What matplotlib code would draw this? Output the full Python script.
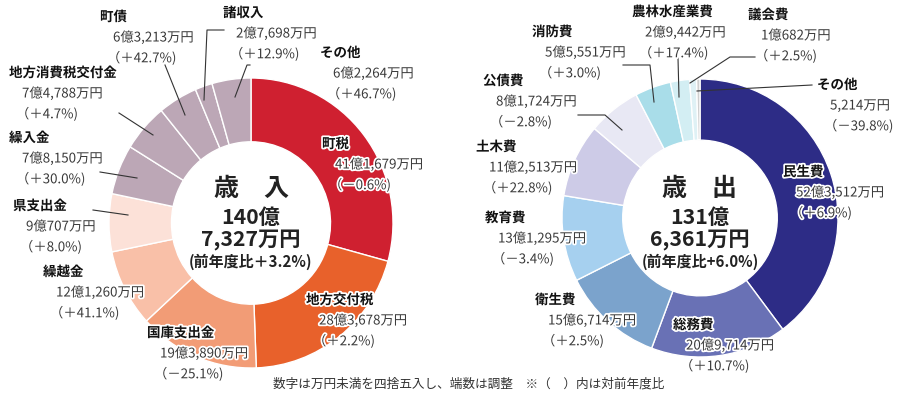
import matplotlib
matplotlib.use('Agg')
import matplotlib.pyplot as plt
import matplotlib.patheffects as pe

plt.rcParams['font.family'] = ['Noto Sans CJK JP', 'DejaVu Sans']

W, H = 900, 394

# 歳入 (万円), clockwise from top
rev_names = ['町税', '地方交付税', '国庫支出金', '繰越金', '県支出金', '繰入金',
             '地方消費税交付金', '町債', '諸収入', 'その他']
rev_values = [411679, 283678, 193890, 121260, 90707, 78150, 74788, 63213, 27698, 62264]
rev_labels = ['41億1,679万円', '28億3,678万円', '19億3,890万円', '12億1,260万円', '9億707万円',
              '7億8,150万円', '7億4,788万円', '6億3,213万円', '2億7,698万円', '6億2,264万円']
rev_pct = ['－0.6%', '＋2.2%', '－25.1%', '＋41.1%', '＋8.0%', '＋30.0%', '＋4.7%',
           '＋42.7%', '＋12.9%', '＋46.7%']
rev_colors = ['#cf2030', '#e8612b', '#f29c76', '#f9c0a8', '#fce1d8', '#bca7b6',
              '#bca7b6', '#bca7b6', '#bca7b6', '#bca7b6']

# 歳出 (万円), clockwise from top
exp_names = ['民生費', '総務費', '衛生費', '教育費', '土木費', '公債費', '消防費',
             '農林水産業費', '議会費', 'その他']
exp_values = [523512, 209714, 156714, 131295, 112513, 81724, 55551, 29442, 10682, 5214]
exp_labels = ['52億3,512万円', '20億9,714万円', '15億6,714万円', '13億1,295万円', '11億2,513万円',
              '8億1,724万円', '5億5,551万円', '2億9,442万円', '1億682万円', '5,214万円']
exp_pct = ['＋6.9%', '＋10.7%', '＋2.5%', '－3.4%', '＋22.8%', '－2.8%', '＋3.0%',
           '＋17.4%', '＋2.5%', '－39.8%']
exp_colors = ['#2d2c86', '#6971b5', '#7ba3cc', '#a6d0ef', '#cdcbe7', '#e8e8f4',
              '#a9dde9', '#d3eef3', '#dff1f5', '#cfcfcf']

# label anchors (pixels) and leader lines
rev_pos = [(322, 144), (306, 300), (147, 333), (43, 272), (13, 206), (9, 138),
           (9, 73), (100, 17), (223, 13), (320, 53)]
rev_lines = [[(165, 65), (185, 115)],
             [(224, 30), (207, 30), (204, 100)],
             [(250, 65), (247, 65), (235, 97)],
             [(119, 113), (153, 135)],
             [(100, 172), (137, 178)],
             [(93, 210), (128, 215)]]
exp_pos = [(783, 172), (673, 325), (535, 300), (485, 218), (476, 147), (483, 81),
           (532, 32), (632, 12), (748, 15), (817, 85)]
exp_lines = [[(578, 115), (605, 115), (622, 130)],
             [(623, 65), (650, 65), (654, 102)],
             [(678, 58), (679, 97)],
             [(755, 57), (730, 57), (690, 83)],
             [(812, 85), (697, 91)]]

fig = plt.figure(figsize=(W / 100, H / 100), dpi=100)


def donut(cx, cy, rx, ry, values, colors):
    ax = fig.add_axes([(cx - rx) / W, (H - cy - ry) / H, 2 * rx / W, 2 * ry / H])
    ax.pie(values, colors=colors, startangle=90, counterclock=False, radius=1,
           wedgeprops=dict(width=0.44, edgecolor='white', linewidth=1))
    ax.set_aspect('auto')
    ax.set_xlim(-1, 1)
    ax.set_ylim(-1, 1)
    ax.axis('off')


donut(251, 223, 142, 145, rev_values, rev_colors)
donut(700, 218, 138, 139, exp_values, exp_colors)

ov = fig.add_axes([0, 0, 1, 1])
ov.set_xlim(0, W)
ov.set_ylim(H, 0)
ov.axis('off')

halo = [pe.withStroke(linewidth=2.5, foreground='white')]


def labels(names, vals, pcts, pos, lines):
    for seg in lines:
        xs, ys = zip(*seg)
        ov.plot(xs, ys, color='#333333', lw=0.8)
    for n, v, p, (x, y) in zip(names, vals, pcts, pos):
        ov.text(x, y, n, fontsize=9.7, fontweight='bold', color='#111111',
                va='center', ha='left', path_effects=halo)
        ov.text(x + 13, y + 20.5, v, fontsize=9.6, color='#3a3a3a',
                va='center', ha='left', path_effects=halo)
        ov.text(x + 7, y + 41, '（' + p + ')', fontsize=9.6, color='#3a3a3a',
                va='center', ha='left', path_effects=halo)


labels(rev_names, rev_labels, rev_pct, rev_pos, rev_lines)
labels(exp_names, exp_labels, exp_pct, exp_pos, exp_lines)

# centre texts
for cx, title, total1, total2, ratio in [
        (251, '歳　入', '140億', '7,327万円', '(前年度比＋3.2%)'),
        (700, '歳　出', '131億', '6,361万円', '(前年度比+6.0%)')]:
    ov.text(cx, 189, title, fontsize=18, fontweight='bold', color='#222222', ha='center', va='center')
    ov.text(cx, 217, total1, fontsize=15.3, fontweight='bold', color='#222222', ha='center', va='center')
    ov.text(cx, 240, total2, fontsize=15.3, fontweight='bold', color='#222222', ha='center', va='center')
    ov.text(cx, 262, ratio, fontsize=10.8, fontweight='bold', color='#222222', ha='center', va='center')

ov.text(273, 384, '数字は万円未満を四捨五入し、端数は調整　※（　）内は対前年度比',
        fontsize=9.1, color='#333333', ha='left', va='center')

fig.savefig('out.png', dpi=100)
